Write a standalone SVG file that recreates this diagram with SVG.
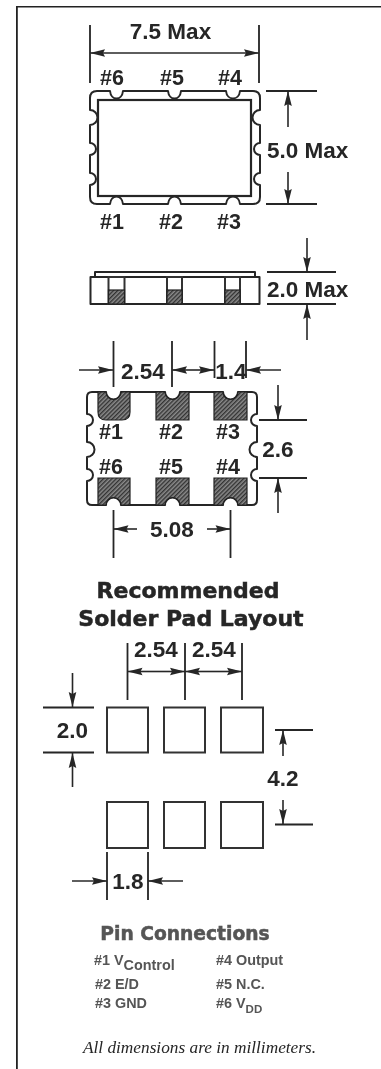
<svg xmlns="http://www.w3.org/2000/svg" width="381" height="1069" viewBox="0 0 381 1069">
<style>
.l{fill:none;stroke:#262626;stroke-width:1.8}
.a{fill:none;stroke:#262626;stroke-width:1.6;marker-end:url(#ah)}
.o{fill:#fff;stroke:#262626;stroke-width:2;stroke-linejoin:round}
.p{fill:#fff;stroke:#333;stroke-width:2}
.h{fill:url(#hatch);stroke:#222;stroke-width:1.2}
text{font-family:"Liberation Sans",Arial,sans-serif;font-weight:bold;fill:#262626}
.t{font-size:22.5px}
.m{font-size:22.5px;text-anchor:middle}
.n{font-size:21.5px;text-anchor:middle}
.s{font-family:"DejaVu Sans",sans-serif;font-size:22px;text-anchor:middle;font-weight:bold;stroke:#262626;stroke-width:0.5}
.pc{font-size:14.4px;fill:#555}
.sub{font-size:11.5px}
</style>
<defs>
<filter id="soft" x="0" y="0" width="100%" height="100%"><feGaussianBlur stdDeviation="0.45"/></filter>
<marker id="ah" markerUnits="userSpaceOnUse" markerWidth="18" markerHeight="10" refX="16" refY="5" orient="auto"><path d="M1 1.200 L16 5 L1 8.800 L3 5Z" fill="#262626"/></marker>
<pattern id="hatch" width="3" height="3" patternUnits="userSpaceOnUse" patternTransform="rotate(-45)"><rect width="3" height="3" fill="#8a8a8a"/><rect width="3" height="1.400" fill="#333"/></pattern>
</defs>
<rect x="0" y="0" width="381" height="1069" fill="#fff"/>
<g filter="url(#soft)">
<g id="frame"><path d="M16.300 1069 V6 H381" fill="none" stroke="#222" stroke-width="3"/></g>

<g id="top-view">
<path class="o" d="M97 91 H110 C111 101 122 101 123 91 H168 C169 101 180 101 181 91 H226 C227 101 239 101 240 91 H253 Q260 91 260 98 V110 A7.500 7.500 0 0 0 260 125 V143 A6 6 0 0 0 260 155 V173 A6 6 0 0 0 260 185 V197 Q260 204 253 204 H240 C239 194 227 194 226 204 H181 C180 194 169 194 168 204 H123 C122 194 111 194 110 204 H97 Q90 204 90 197 V185 A6 6 0 0 0 90 173 V155 A6 6 0 0 0 90 143 V125 A7.500 7.500 0 0 0 90 110 V98 Q90 91 97 91Z"/>
<rect x="98" y="100" width="153" height="96" fill="#fff" stroke="#262626" stroke-width="2.200"/>
<text class="n" x="112" y="85">#6</text><text class="n" x="172" y="85">#5</text><text class="n" x="230" y="85">#4</text>
<text class="n" x="112" y="229">#1</text><text class="n" x="171" y="229">#2</text><text class="n" x="229" y="229">#3</text>
</g>

<g id="side-view">
<path class="o" d="M95 277 V272 H255 V277"/>
<rect class="o" x="90.500" y="277" width="169" height="27"/>
<rect class="p" x="108.500" y="277" width="16" height="27"/><rect class="h" x="108.500" y="290" width="16" height="14"/>
<rect class="p" x="167" y="277" width="15" height="27"/><rect class="h" x="167" y="290" width="15" height="14"/>
<rect class="p" x="225" y="277" width="15" height="27"/><rect class="h" x="225" y="290" width="15" height="14"/>
</g>

<g id="pad-view">
<path class="o" d="M92 392 H106 A7.500 7.500 0 0 0 121 392 H165 A7.500 7.500 0 0 0 180 392 H223 A7.500 7.500 0 0 0 238 392 H252 Q257 392 257 397 V414 A6 6 0 0 0 257 426 V442 A7.500 7.500 0 0 0 257 457 V469 A6 6 0 0 0 257 481 V500 Q257 505 252 505 H238 A7.500 7.500 0 0 0 223 505 H180 A7.500 7.500 0 0 0 165 505 H121 A7.500 7.500 0 0 0 106 505 H92 Q87 505 87 500 V481 A6 6 0 0 0 87 469 V457 A7.500 7.500 0 0 0 87 442 V426 A6 6 0 0 0 87 414 V397 Q87 392 92 392Z"/>
<path class="h" d="M98 392 H106 A7.500 7.500 0 0 0 121 392 H130 V412 Q130 420 122 420 H106 Q98 420 98 412Z"/>
<path class="h" d="M156 392 H165 A7.500 7.500 0 0 0 180 392 H189 V420 H156Z"/>
<path class="h" d="M214 392 H223 A7.500 7.500 0 0 0 238 392 H247 V420 H214Z"/>
<path class="h" d="M98 478 H130 V505 H121 A7.500 7.500 0 0 0 106 505 H98Z"/>
<path class="h" d="M156 478 H189 V505 H180 A7.500 7.500 0 0 0 165 505 H156Z"/>
<path class="h" d="M214 478 H247 V505 H238 A7.500 7.500 0 0 0 223 505 H214Z"/>
<text class="n" x="111" y="439">#1</text><text class="n" x="171" y="439">#2</text><text class="n" x="228" y="439">#3</text>
<text class="n" x="111" y="474">#6</text><text class="n" x="171" y="474">#5</text><text class="n" x="228" y="474">#4</text>
</g>

<g id="solder-pads">
<rect class="p" x="107" y="707.500" width="41" height="45"/><rect class="p" x="164" y="707.500" width="41" height="45"/><rect class="p" x="221" y="707.500" width="42" height="45"/>
<rect class="p" x="107" y="802" width="41" height="46"/><rect class="p" x="164" y="802" width="41" height="46"/><rect class="p" x="221" y="802" width="42" height="46"/>
</g>

<g id="connectors">
<path class="l" d="M90 25 V83 M259 25 V83 M266 91 H317 M266 204 H317 M267 272 H336 M267 304 H336"/>
<path class="a" d="M170 53 H90"/><path class="a" d="M170 53 H259"/>
<path class="a" d="M288 127 V91"/><path class="a" d="M288 172 V204"/>
<path class="a" d="M307 238 V272"/><path class="a" d="M307 340 V304"/>
<path class="l" d="M113.500 341 V387 M172 341 V387 M214.500 341 V378 M246 341 V378 M259 420 H307 M259 478 H307 M113.500 510 V558 M230.500 510 V558"/>
<path class="a" d="M79 370 H113"/><path class="a" d="M193 370 H172"/><path class="a" d="M193 370 H214"/><path class="a" d="M281 370 H246"/>
<path class="a" d="M278 385 V420"/><path class="a" d="M278 513 V478"/>
<path class="a" d="M137 529 H113.500"/><path class="a" d="M207 529 H230.500"/>
<path class="l" d="M127.500 643 V700 M185 643 V700 M242 643 V700 M43 707.500 H94 M43 752.500 H94 M275 730 H313 M275 824.500 H313 M107 852 V900 M148 852 V900"/>
<path class="a" d="M156 671.500 H127.500"/><path class="a" d="M156 671.500 H185"/><path class="a" d="M213 671.500 H185"/><path class="a" d="M213 671.500 H242"/>
<path class="a" d="M72.500 673 V707"/><path class="a" d="M72.500 787 V753"/>
<path class="a" d="M283 756 V730"/><path class="a" d="M283 800 V824"/>
<path class="a" d="M72 881 H107"/><path class="a" d="M183 881 H148"/>
</g>

<g id="labels">
<text class="t" x="170.500" y="39" text-anchor="middle">7.5 Max</text>
<text class="t" x="267" y="158">5.0 Max</text>
<text class="t" x="267" y="297">2.0 Max</text>
<text class="m" x="143" y="379">2.54</text>
<text class="m" x="231" y="379">1.4</text>
<text class="m" x="278" y="457">2.6</text>
<text class="m" x="172" y="537">5.08</text>
<text class="s" x="188" y="598">Recommended</text>
<text class="s" x="191" y="626">Solder Pad Layout</text>
<text class="m" x="156" y="657">2.54</text>
<text class="m" x="214" y="657">2.54</text>
<text class="m" x="72.500" y="738">2.0</text>
<text class="m" x="283" y="786">4.2</text>
<text class="m" x="128" y="889">1.8</text>
<text class="s" x="185" y="940" style="font-size:18.700px;fill:#555;stroke:#555">Pin Connections</text>
<text class="pc" x="94" y="965">#1 V<tspan dy="5">Control</tspan></text>
<text class="pc" x="95" y="989">#2 E/D</text>
<text class="pc" x="95" y="1008">#3 GND</text>
<text class="pc" x="216" y="965">#4 Output</text>
<text class="pc" x="216" y="989">#5 N.C.</text>
<text class="pc" x="216" y="1008">#6 V<tspan class="sub" dy="5">DD</tspan></text>
<text x="199.500" y="1053" text-anchor="middle" style="font-family:'Liberation Serif',serif;font-style:italic;font-weight:normal;font-size:17.300px">All dimensions are in millimeters.</text>
</g>
</g>
</svg>
